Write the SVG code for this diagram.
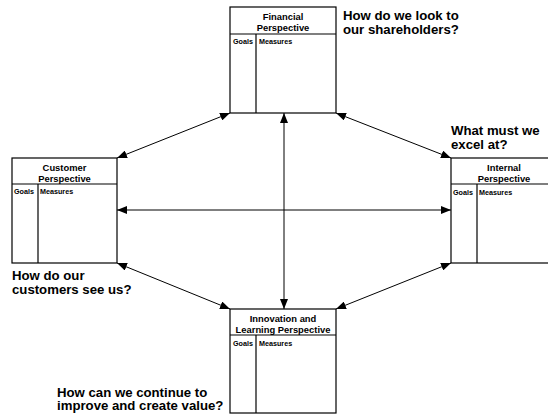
<svg xmlns="http://www.w3.org/2000/svg" width="548" height="416" viewBox="0 0 548 416">
<style>
.box{fill:#fff;stroke:#000;stroke-width:1.2}
.ln{stroke:#000;stroke-width:1.2;fill:none}
.t{font-family:"Liberation Sans",Arial,sans-serif;font-weight:bold;font-size:9.4px;text-anchor:middle;fill:#000}
.s{font-family:"Liberation Sans",Arial,sans-serif;font-weight:bold;font-size:7.2px;fill:#000}
.q{font-family:"Liberation Sans",Arial,sans-serif;font-weight:bold;font-size:13.2px;fill:#000}
.c{stroke:#000;stroke-width:1;fill:none;marker-start:url(#ah);marker-end:url(#ah)}
</style>
<defs>
<marker id="ah" viewBox="0 0 10 8" refX="10" refY="4" markerWidth="10" markerHeight="8" markerUnits="userSpaceOnUse" orient="auto-start-reverse">
<path d="M0,0 L10,4 L0,8 Z" fill="#000"/>
</marker>
</defs>
<rect width="548" height="416" fill="#fff"/>
<g id="connectors">
<line class="c" x1="117" y1="158" x2="230" y2="113"/>
<line class="c" x1="336" y1="113" x2="451" y2="158"/>
<line class="c" x1="284" y1="113" x2="284" y2="309"/>
<line class="c" x1="117" y1="210" x2="451" y2="210"/>
<line class="c" x1="117" y1="263" x2="230" y2="309"/>
<line class="c" x1="451" y1="263" x2="336" y2="309"/>
</g>
<g id="financial">
<rect class="box" x="230" y="7" width="106" height="106"/>
<line class="ln" x1="230" y1="34" x2="336" y2="34"/>
<line class="ln" x1="256" y1="34" x2="256" y2="113"/>
<text class="t" x="283" y="20">Financial</text>
<text class="t" x="283" y="30.5">Perspective</text>
<text class="s" x="233" y="44">Goals</text>
<text class="s" x="259" y="44">Measures</text>
</g>
<g id="customer">
<rect class="box" x="12" y="158" width="105" height="105"/>
<line class="ln" x1="12" y1="184" x2="117" y2="184"/>
<line class="ln" x1="38" y1="184" x2="38" y2="263"/>
<text class="t" x="64.5" y="171">Customer</text>
<text class="t" x="64.5" y="181.5">Perspective</text>
<text class="s" x="14" y="194">Goals</text>
<text class="s" x="40" y="194">Measures</text>
</g>
<g id="internal">
<rect class="box" x="451" y="158" width="106" height="105"/>
<line class="ln" x1="451" y1="184" x2="557" y2="184"/>
<line class="ln" x1="477" y1="184" x2="477" y2="263"/>
<text class="t" x="504" y="171">Internal</text>
<text class="t" x="504" y="181.5">Perspective</text>
<text class="s" x="453" y="195">Goals</text>
<text class="s" x="479" y="195">Measures</text>
</g>
<g id="innovation">
<rect class="box" x="230" y="309" width="106" height="104"/>
<line class="ln" x1="230" y1="335" x2="336" y2="335"/>
<line class="ln" x1="256" y1="335" x2="256" y2="413"/>
<text class="t" x="283" y="322">Innovation and</text>
<text class="t" x="283" y="332.5">Learning Perspective</text>
<text class="s" x="233" y="346">Goals</text>
<text class="s" x="259" y="346">Measures</text>
</g>
<g id="labels">
<text class="q" x="343" y="20">How do we look to</text>
<text class="q" x="343" y="33.5">our shareholders?</text>
<text class="q" x="451" y="135">What must we</text>
<text class="q" x="451" y="148.5">excel at?</text>
<text class="q" x="12" y="280">How do our</text>
<text class="q" x="12" y="293.5">customers see us?</text>
<text class="q" x="57" y="396.5">How can we continue to</text>
<text class="q" x="57" y="410">improve and create value?</text>
</g>
</svg>
